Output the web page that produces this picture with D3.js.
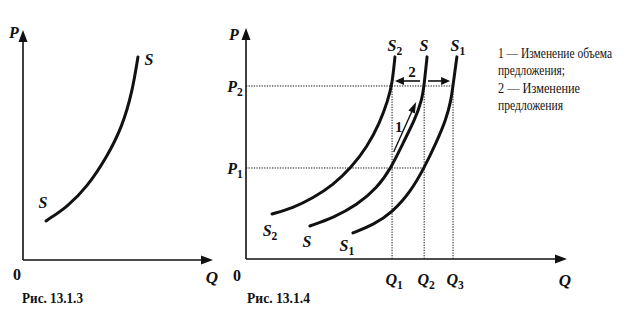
<!DOCTYPE html>
<html><head><meta charset="utf-8">
<script src="https://cdn.jsdelivr.net/npm/d3@7"></script>
<style>body{margin:0;background:#fff}svg{display:block}text{font-family:"Liberation Serif","Times New Roman",serif}</style>
</head><body>
<script>
// ---------- data (abstract units) ----------
const leftSupply = [[12.1,17.0],[23.2,23.0],[33.7,31.7],[44.2,44.8],[52.1,57.8],[57.4,72.6],[60.5,88.3]];
const curveS2 = [[8.1,19.5],[14.6,22.1],[20.9,26.4],[27.1,32.0],[32.7,39.4],[37.7,48.5],[41.7,58.9],[44.2,68.8],[45.5,75.3],[46.4,87.5]];
const curveS  = [[19.9,14.3],[27.1,17.8],[34.6,23.4],[40.8,30.7],[45.2,39.4],[48.9,50.2],[52.6,60.2],[54.8,68.8],[55.5,75.3],[56.4,87.5]];
const curveS1 = [[33.3,11.3],[39.6,14.7],[45.8,20.4],[51.4,29.4],[55.5,39.4],[59.2,50.2],[62.3,60.2],[63.9,68.8],[64.5,75.3],[65.7,87.5]];
const priceLevels = [{name:"P", sub:"1", value:39.4, to:55.5},{name:"P", sub:"2", value:74.9, to:64.5}];
const quantityLevels = [{name:"Q", sub:"1", value:45.5},{name:"Q", sub:"2", value:55.5},{name:"Q", sub:"3", value:64.5}];
const legendLines = ["1 — Изменение объема","предложения;","2 — Изменение","предложения"];
const captions = ["Рис. 13.1.3","Рис. 13.1.4"];

const W=644,H=330;
const svg=d3.select("body").append("svg").attr("width",W).attr("height",H);
svg.append("rect").attr("width",W).attr("height",H).attr("fill","#fff");
const ink="#111";

function arrowHead(g,x,y,angle,len,wid){
  const a=angle, bx=x-len*Math.cos(a), by=y-len*Math.sin(a);
  const px=-Math.sin(a)*wid/2, py=Math.cos(a)*wid/2;
  g.append("path").attr("d",`M${x},${y}L${bx+px},${by+py}L${bx-px},${by-py}Z`).attr("fill",ink);
}
function label(g,x,y,main,sub,size,anchor){
  const t=g.append("text").attr("x",x).attr("y",y)
    .style("font-style","italic").style("font-weight","bold").style("font-size",size+"px")
    .attr("text-anchor",anchor||"middle").attr("fill",ink);
  t.append("tspan").text(main);
  if(sub) t.append("tspan").style("font-size",(size*0.72)+"px").attr("dy",size*0.24).style("font-style","normal").text(sub);
  return t;
}
function plain(g,x,y,txt,size,bold){
  return g.append("text").attr("x",x).attr("y",y).style("font-size",size+"px")
    .style("font-weight",bold?"bold":"normal").attr("fill",ink).text(txt);
}

// ---------- left chart ----------
const lx=d3.scaleLinear().domain([0,100]).range([23,213]);
const ly=d3.scaleLinear().domain([0,100]).range([260,30]);
const gl=svg.append("g");
gl.append("line").attr("x1",lx(0)).attr("y1",ly(0)).attr("x2",lx(0)).attr("y2",ly(100)+10).attr("stroke",ink).attr("stroke-width",1.6);
gl.append("line").attr("x1",lx(0)).attr("y1",ly(0)).attr("x2",lx(100)-10).attr("y2",ly(0)).attr("stroke",ink).attr("stroke-width",1.6);
arrowHead(gl,lx(0),ly(100),-Math.PI/2,12,9);
arrowHead(gl,lx(100),ly(0),0,12,9);
const line=(sx,sy)=>d3.line().x(d=>sx(d[0])).y(d=>sy(d[1])).curve(d3.curveBasis);
gl.append("path").attr("d",line(lx,ly)(leftSupply)).attr("fill","none").attr("stroke",ink).attr("stroke-width",3).attr("stroke-linecap","round");
label(gl,lx(0)-9,ly(100)+8,"P",null,16);
label(gl,lx(100)-1,ly(0)+23,"Q",null,17);
plain(gl,lx(0)-6,ly(0)+20,"0",16,true).attr("text-anchor","middle");
const lf=leftSupply[0], ll=leftSupply[leftSupply.length-1];
label(gl,lx(lf[0])-3,ly(lf[1])-13,"S",null,16);
label(gl,lx(ll[0])+11,ly(ll[1])+8,"S",null,16);

// ---------- right chart ----------
const rx=d3.scaleLinear().domain([0,100]).range([246,567]);
const ry=d3.scaleLinear().domain([0,100]).range([259,28]);
const gr=svg.append("g");
priceLevels.forEach(p=>{
  gr.append("line").attr("x1",rx(0)).attr("x2",rx(p.to)).attr("y1",ry(p.value)).attr("y2",ry(p.value))
    .attr("stroke",ink).attr("stroke-width",1).attr("stroke-dasharray","1.3,1.3");
});
const p2=priceLevels[1].value;
quantityLevels.forEach(q=>{
  gr.append("line").attr("x1",rx(q.value)).attr("x2",rx(q.value)).attr("y1",ry(p2)).attr("y2",ry(0))
    .attr("stroke",ink).attr("stroke-width",1).attr("stroke-dasharray","1.3,1.3");
});
gr.append("line").attr("x1",rx(0)).attr("y1",ry(0)).attr("x2",rx(0)).attr("y2",ry(100)+10).attr("stroke",ink).attr("stroke-width",1.6);
gr.append("line").attr("x1",rx(0)).attr("y1",ry(0)).attr("x2",rx(100)-10).attr("y2",ry(0)).attr("stroke",ink).attr("stroke-width",1.6);
arrowHead(gr,rx(0),ry(100),-Math.PI/2,12,9);
arrowHead(gr,rx(100),ry(0),0,12,9);
[curveS2,curveS,curveS1].forEach(c=>{
  gr.append("path").attr("d",line(rx,ry)(c)).attr("fill","none").attr("stroke",ink).attr("stroke-width",3).attr("stroke-linecap","round");
});
label(gr,rx(0)-12,ry(100)+12,"P",null,16);
label(gr,rx(100)-2,ry(0)+27,"Q",null,17);
plain(gr,rx(0)-9,ry(0)+22,"0",16,true).attr("text-anchor","middle");
priceLevels.forEach(p=>label(gr,rx(0)-11,ry(p.value)+6,p.name,p.sub,16));
quantityLevels.forEach(q=>label(gr,rx(q.value)+2,ry(0)+26,q.name,q.sub,16));
// curve labels
const topOff=[0,-3,1];
[[curveS2,"S","2"],[curveS,"S",null],[curveS1,"S","1"]].forEach(([c,m,s],i)=>{
  const t=c[c.length-1]; label(gr,rx(t[0])+topOff[i],ry(t[1])-6,m,s,16);
});
label(gr,rx(curveS2[0][0])-2,ry(curveS2[0][1])+22,"S","2",16);
label(gr,rx(curveS[0][0])-3,ry(curveS[0][1])+21,"S",null,16);
label(gr,rx(curveS1[0][0])-6,ry(curveS1[0][1])+18,"S","1",16);
// arrow 2 (shift of supply)
const ay=ry(p2)-5;
gr.append("line").attr("x1",rx(54.2)).attr("x2",rx(48)).attr("y1",ay).attr("y2",ay).attr("stroke",ink).attr("stroke-width",1.6);
arrowHead(gr,rx(46.4),ay,Math.PI,9,8);
gr.append("line").attr("x1",rx(56.7)).attr("x2",rx(62)).attr("y1",ay).attr("y2",ay).attr("stroke",ink).attr("stroke-width",1.6);
arrowHead(gr,rx(63.6),ay,0,9,8);
plain(gr,rx(51.7),ay-4,"2",15,true).attr("text-anchor","middle");
// arrow 1 (movement along curve)
const a1=[rx(46.0),ry(46.3)], a2=[rx(53.0),ry(68.0)];
const ang=Math.atan2(a2[1]-a1[1],a2[0]-a1[0]);
gr.append("line").attr("x1",a1[0]).attr("y1",a1[1]).attr("x2",a2[0]-8*Math.cos(ang)).attr("y2",a2[1]-8*Math.sin(ang)).attr("stroke",ink).attr("stroke-width",1.4);
arrowHead(gr,a2[0],a2[1],ang,11,7);
plain(gr,rx(47.6),ry(55.0),"1",15,true).attr("text-anchor","middle");

// ---------- legend ----------
const legendY=[58,75,93,110];
const legendW=[114,67,82,65];
legendLines.forEach((t,i)=>{
  plain(svg,498,legendY[i],t,14,false).attr("textLength",legendW[i]).attr("lengthAdjust","spacingAndGlyphs");
});
// ---------- captions ----------
const capX=[22,247], capW=[61,63];
captions.forEach((t,i)=>{
  plain(svg,capX[i],303,t,14,true).attr("textLength",capW[i]).attr("lengthAdjust","spacingAndGlyphs");
});
</script>
</body></html>
